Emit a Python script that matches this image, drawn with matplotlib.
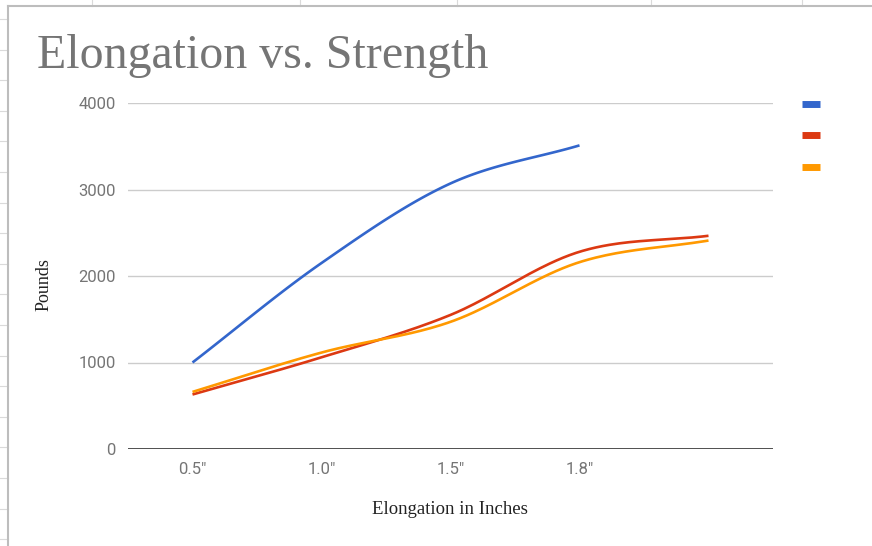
import numpy as np
import matplotlib
matplotlib.use("Agg")
import matplotlib.pyplot as plt
from matplotlib.lines import Line2D

# chart values
categories = ['0.5"', '1.0"', '1.5"', '1.8"', '']
series_a = [1000, 2150, 3070, 3510, np.nan]
series_b = [630, 1060, 1550, 2280, 2465]
series_c = [660, 1115, 1470, 2160, 2410]
colors = ['#3366cc', '#dc3912', '#ff9900']
yticks = [0, 1000, 2000, 3000, 4000]

W, H = 872, 546


def smooth(x, y, n=40):
    # catmull-rom style hermite curve through the points
    x = np.asarray(x, float)
    y = np.asarray(y, float)
    ok = ~np.isnan(y)
    x, y = x[ok], y[ok]
    m = np.zeros_like(y)
    m[1:-1] = (y[2:] - y[:-2]) / (x[2:] - x[:-2])
    m[0] = (y[1] - y[0]) / (x[1] - x[0])
    m[-1] = (y[-1] - y[-2]) / (x[-1] - x[-2])
    xs, ys = [], []
    for i in range(len(x) - 1):
        h = x[i + 1] - x[i]
        t = np.linspace(0, 1, n)
        h00 = 2 * t**3 - 3 * t**2 + 1
        h10 = t**3 - 2 * t**2 + t
        h01 = -2 * t**3 + 3 * t**2
        h11 = t**3 - t**2
        xs.append(x[i] + t * h)
        ys.append(h00 * y[i] + h10 * h * m[i] + h01 * y[i + 1] + h11 * h * m[i + 1])
    return np.concatenate(xs), np.concatenate(ys)


fig = plt.figure(figsize=(W / 100, H / 100), dpi=100)

# spreadsheet grid peeking around the chart
for yy in np.arange(19, H, 30.6):
    fig.add_artist(Line2D([0, 8 / W], [1 - yy / H] * 2, color='#dadada', lw=0.8))
for xx in [92, 300, 457, 651, 802]:
    fig.add_artist(Line2D([xx / W] * 2, [1, 1 - 6 / H], color='#dadada', lw=0.8))
fig.add_artist(Line2D([8 / W, 8 / W], [0, 1 - 6 / H], color='#bdbdbd', lw=1.5))
fig.add_artist(Line2D([8 / W, 1], [1 - 6 / H] * 2, color='#bdbdbd', lw=1.5))

ax = fig.add_axes([128 / W, 1 - 449 / H, (773 - 128) / W, (449 - 103) / H])
x = np.arange(len(categories))

for vals, c in zip([series_a, series_b, series_c], colors):
    sx, sy = smooth(x, vals)
    ax.plot(sx, sy, color=c, lw=1.9, solid_capstyle='butt', zorder=3)

ax.set_xlim(-0.5, len(categories) - 0.5)
ax.set_ylim(0, 4000)
ax.set_yticks(yticks)
ax.set_xticks(x)
ax.set_xticklabels(categories)
for s in ax.spines.values():
    s.set_visible(False)
ax.grid(axis='y', color='#cccccc', lw=1)
ax.axhline(0, color='#333333', lw=1.2, zorder=2)
ax.tick_params(length=0, labelsize=12, labelcolor='#757575', labelfontfamily='Roboto')
ax.tick_params(axis='y', pad=9)
ax.tick_params(axis='x', pad=9)

fig.text(37 / W, 1 - 68 / H, 'Elongation vs. Strength', fontsize=34.5,
         family='Liberation Serif', color='#757575', va='baseline', ha='left')
fig.text(450 / W, 1 - 509 / H, 'Elongation in Inches', fontsize=13.5,
         family='Liberation Serif', color='#222222', va='center', ha='center')
fig.text(44 / W, 1 - 285 / H, 'Pounds', fontsize=13, rotation=90,
         family='Liberation Serif', color='#222222', va='center', ha='center')

handles = [Line2D([], [], color=c, lw=5, solid_capstyle='butt') for c in colors]
fig.legend(handles, [' ', ' ', ' '], loc='upper left', frameon=False,
           bbox_to_anchor=(802 / W, 1 - 96 / H), borderpad=0, borderaxespad=0,
           handlelength=1.05, handletextpad=0, fontsize=12, labelspacing=0.8)

fig.savefig('out.png', dpi=100, facecolor='white')
